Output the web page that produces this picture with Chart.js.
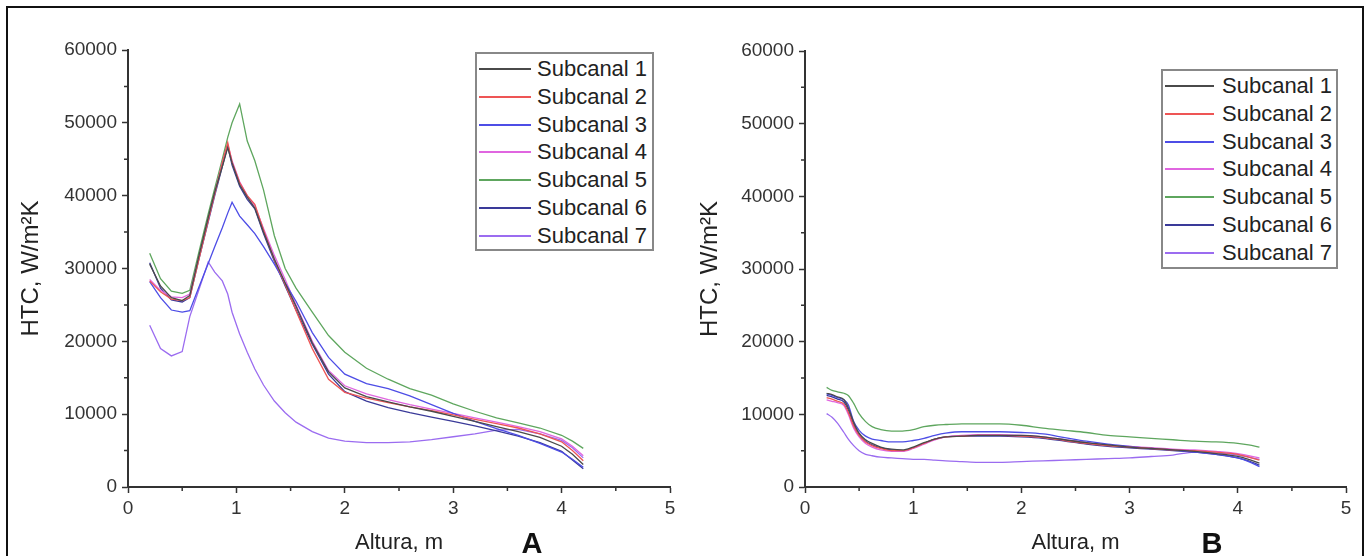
<!DOCTYPE html>
<html><head><meta charset="utf-8">
<script src="https://cdn.jsdelivr.net/npm/chart.js@4.4.0/dist/chart.umd.min.js"></script>
<style>
html,body{margin:0;padding:0;background:#fff;width:1370px;height:556px;overflow:hidden;font-family:"Liberation Sans",Arial,sans-serif;}
#frame{position:absolute;left:6px;top:6px;width:1358px;height:620px;border:2px solid #111;box-sizing:border-box;}
.wrap{position:absolute;top:0;height:556px;}
.legend{position:absolute;border:2px solid #888;box-sizing:border-box;background:#fff;}
.row{position:absolute;left:0;height:28px;width:100%;}
.row .ln{position:absolute;top:13px;height:2px;}
.row .tx{position:absolute;top:0;line-height:28px;font-size:22px;color:#222;white-space:nowrap;}
.tag{position:absolute;font-weight:bold;font-size:29px;color:#111;line-height:1;transform:translate(-50%,-50%);}
</style>
</head><body>
<div id="frame"></div>
<div class="wrap" style="left:0;width:690px;"><canvas id="cA" width="690" height="556"></canvas></div>
<div class="wrap" style="left:678px;width:692px;"><canvas id="cB" width="692" height="556"></canvas></div>
<div class="legend" id="legA" style="left:475px;top:52px;width:179px;height:199px;"></div>
<div class="legend" id="legB" style="left:1161px;top:69px;width:177px;height:200px;"></div>
<div class="tag" style="left:532px;top:543px;">A</div>
<div class="tag" style="left:1212px;top:543px;">B</div>
<script>
// ---- data ----
const seriesNames = ['Subcanal 1','Subcanal 2','Subcanal 3','Subcanal 4','Subcanal 5','Subcanal 6','Subcanal 7'];
const seriesColors = ['#4a4a4a','#ee5555','#4d4de6','#e066e0','#5ea65e','#3a3a99','#9b6cf0'];

const xTicks = [0,1,2,3,4,5];
const xMinor = [0.5,1.5,2.5,3.5,4.5];
const yTicks = [0,10000,20000,30000,40000,50000,60000];
const yMinor = [5000,15000,25000,35000,45000,55000];

// Panel A
const xA = [0.2,0.3,0.4,0.5,0.57,0.65,0.74,0.8,0.87,0.92,0.96,1.03,1.1,1.17,1.25,1.35,1.45,1.55,1.7,1.85,2.0,2.2,2.4,2.6,2.8,3.0,3.2,3.4,3.6,3.8,4.0,4.1,4.2];
const a1 = [30600,27600,26000,25600,26300,31500,37000,40500,44000,46600,44500,41500,39800,38300,35000,31300,28000,24800,19800,15800,13600,12400,11700,11000,10400,9700,9000,8300,7600,6800,5600,4500,3100];
const a2 = [28300,26800,25800,25600,26000,31000,36600,40300,44500,47300,44600,41800,40000,38800,35300,31200,27800,24200,19000,14800,13000,12200,11600,11000,10500,9900,9300,8700,8100,7300,6200,5000,3600];
const a3 = [28200,26000,24300,24000,24200,27300,30700,33000,35600,37600,39100,37200,36000,34800,33000,30600,28000,25500,21200,17800,15500,14200,13500,12500,11300,10100,9000,8000,7100,6000,4800,3800,2700];
const a4 = [28500,27000,26100,26000,26500,31300,36700,40300,44500,47000,44800,41900,40000,38600,35500,31800,28500,25000,20000,16000,13900,12800,12000,11300,10700,10100,9500,8900,8300,7600,6600,5600,4300];
const a5 = [32100,28600,26900,26600,27000,32000,37500,41000,45000,48000,50000,52600,47500,44800,40800,34500,30000,27300,24000,20800,18500,16300,14800,13500,12600,11400,10400,9500,8800,8100,7100,6300,5300];
const a6 = [30800,27300,25700,25400,26000,31000,36400,40000,44000,46800,44200,41300,39500,38200,34800,31000,27600,24300,19600,15500,13100,11800,10900,10200,9600,9000,8400,7700,7000,6100,4900,3700,2500];
const a7 = [22200,19000,18000,18600,23400,26900,30900,29500,28300,26500,24000,21000,18500,16200,14000,11800,10200,8900,7600,6700,6300,6100,6100,6200,6500,6900,7300,7800,7900,7300,6400,5400,4000];

// Panel B
const xB = [0.2,0.25,0.3,0.36,0.4,0.45,0.5,0.56,0.62,0.7,0.8,0.9,1.0,1.1,1.2,1.3,1.45,1.6,1.8,2.0,2.2,2.4,2.6,2.8,3.0,3.2,3.4,3.6,3.8,4.0,4.1,4.2];
const b1 = [12900,12700,12400,12000,10900,8900,7400,6500,6000,5500,5200,5100,5500,6100,6600,6900,7000,7100,7100,7100,6900,6500,6100,5800,5500,5300,5100,4900,4600,4200,3800,3300];
const b2 = [12300,12100,11800,11400,10300,8400,7100,6200,5700,5300,5000,5000,5400,6000,6600,6900,7000,7100,7100,7000,6800,6400,6000,5700,5500,5300,5100,5000,4800,4500,4100,3700];
const b3 = [12800,12600,12300,12000,11300,9000,7800,7000,6600,6400,6200,6200,6400,6700,7100,7400,7600,7600,7600,7500,7300,6800,6300,5900,5600,5300,5100,4800,4500,4000,3500,2800];
const b4 = [12000,11800,11600,11200,10000,8100,6900,6000,5500,5100,4900,4900,5300,5900,6500,6900,7100,7200,7200,7100,6900,6500,6100,5800,5600,5400,5200,5100,4900,4600,4300,4000];
const b5 = [13700,13300,13100,12900,12600,11500,10100,9000,8300,7900,7700,7700,7900,8300,8500,8600,8700,8700,8700,8500,8100,7800,7500,7100,6900,6700,6500,6300,6200,6000,5800,5500];
const b6 = [12600,12400,12100,11700,10600,8600,7200,6300,5800,5400,5100,5000,5400,6000,6600,6900,7000,7000,7000,6900,6700,6300,5900,5600,5400,5200,5000,4800,4500,4000,3600,3000];
const b7 = [10100,9600,8800,7500,6600,5700,5000,4500,4300,4100,4000,3900,3800,3800,3700,3600,3500,3400,3400,3500,3600,3700,3800,3900,4000,4200,4400,4800,4700,4400,4100,3800];

// ---- chart setup ----
const FONT = '"Liberation Sans", Arial, sans-serif';
const minorTicks = {
  id: 'minorTicks',
  afterDraw(chart) {
    const {ctx, scales: {x, y}} = chart;
    ctx.save();
    ctx.strokeStyle = '#333';
    ctx.lineWidth = 1.5;
    ctx.beginPath();
    xMinor.forEach(v => { const p = x.getPixelForValue(v); ctx.moveTo(p, y.bottom); ctx.lineTo(p, y.bottom + 4); });
    yMinor.forEach(v => { const p = y.getPixelForValue(v); ctx.moveTo(x.left, p); ctx.lineTo(x.left - 4, p); });
    ctx.stroke();
    ctx.restore();
  }
};

function makeChart(id, xs, series, opts) {
  const datasets = series.map((arr, i) => ({
    label: seriesNames[i],
    data: xs.map((x, j) => ({x: x, y: arr[j]})),
    borderColor: seriesColors[i],
    backgroundColor: seriesColors[i],
    borderWidth: 1.3,
    pointRadius: 0,
    fill: false,
    tension: opts.tension,
    cubicInterpolationMode: opts.mono ? 'monotone' : 'default'
  }));
  const chart = new Chart(document.getElementById(id), {
    type: 'line',
    data: {datasets},
    options: {
      responsive: false,
      animation: false,
      events: [],
      layout: {padding: {left: 0, top: opts.top, right: opts.right, bottom: 0}},
      plugins: {legend: {display: false}, tooltip: {enabled: false}},
      scales: {
        x: {
          type: 'linear', min: 0, max: 5,
          afterBuildTicks: s => { s.ticks = xTicks.map(v => ({value: v})); },
          afterFit: s => { s.height = 556 - opts.bottomPx; },
          border: {display: true, color: '#333', width: 2},
          grid: {display: true, drawOnChartArea: false, tickLength: 6, tickColor: '#333', tickWidth: 1.5},
          ticks: {color: '#333', font: {family: FONT, size: 19}, padding: 4, maxRotation: 0, callback: v => String(v)},
          title: {display: true, text: 'Altura, m', color: '#222', font: {family: FONT, size: 22}, padding: {top: 0, bottom: 0}}
        },
        y: {
          type: 'linear', min: 0, max: 60000,
          afterBuildTicks: s => { s.ticks = yTicks.map(v => ({value: v})); },
          afterFit: s => { s.width = opts.yWidth; },
          border: {display: true, color: '#333', width: 2},
          grid: {display: true, drawOnChartArea: false, tickLength: 6, tickColor: '#333', tickWidth: 1.5},
          ticks: {color: '#333', font: {family: FONT, size: 19}, padding: 5, callback: v => String(v)},
          title: {display: true, text: 'HTC, W/m\u00B2K', color: '#222', font: {family: FONT, size: 24}, padding: {top: opts.titlePad, bottom: 0}}
        }
      }
    },
    plugins: [minorTicks]
  });
  return chart;
}

function buildLegend(elId, chart, sample) {
  const el = document.getElementById(elId);
  chart.data.datasets.forEach((ds, i) => {
    const row = document.createElement('div');
    row.className = 'row';
    row.style.top = Math.round(1 + 27.8 * i) + 'px';
    const ln = document.createElement('div');
    ln.className = 'ln';
    ln.style.left = sample.l + 'px';
    ln.style.width = sample.w + 'px';
    ln.style.background = ds.borderColor;
    const tx = document.createElement('div');
    tx.className = 'tx';
    tx.style.left = sample.t + 'px';
    tx.textContent = ds.label;
    row.appendChild(ln); row.appendChild(tx);
    el.appendChild(row);
  });
}

const chartA = makeChart('cA', xA, [a1,a2,a3,a4,a5,a6,a7], {top: 50, right: 20, bottomPx: 487, yWidth: 128, titlePad: 17, tension: 0, mono: false});
const chartB = makeChart('cB', xB, [b1,b2,b3,b4,b5,b6,b7], {top: 51, right: 24, bottomPx: 487, yWidth: 127, titlePad: 18, tension: 0.4, mono: true});
buildLegend('legA', chartA, {l: 2, w: 52, t: 60});
buildLegend('legB', chartB, {l: 2, w: 49, t: 59});
</script>
</body></html>
